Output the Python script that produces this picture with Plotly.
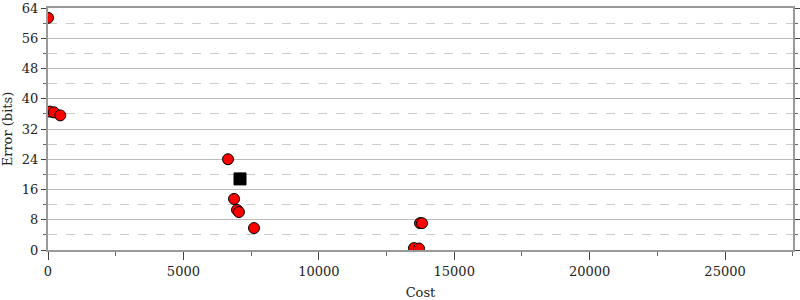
import plotly.graph_objects as go

cost = [0, 74, 222, 454, 6647, 6870, 6980, 7050, 7607, 13737, 13811, 13515, 13700]
error = [61.4, 36.6, 36.4, 35.6, 24.0, 13.5, 10.6, 10.05, 5.8, 7.1, 7.1, 0.5, 0.4]
init_cost = [7090]
init_error = [18.8]
x_ticks = [0, 5000, 10000, 15000, 20000, 25000]
x_labels = ["0", "5000", "10000", "15000", "20000", "25000"]
y_ticks = [0, 8, 16, 24, 32, 40, 48, 56, 64]

fig = go.Figure()
fig.add_trace(go.Scatter(x=cost, y=error, mode="markers",
                         marker=dict(symbol="circle", size=11, color="red",
                                     line=dict(color="black", width=1)),
                         showlegend=False))
fig.add_trace(go.Scatter(x=init_cost, y=init_error, mode="markers",
                         marker=dict(symbol="square", size=12, color="black",
                                     line=dict(color="black", width=1)),
                         showlegend=False))

font = dict(family="DejaVu Serif", size=13, color="#222")
tfont = dict(family="DejaVu Serif", size=13, color="#222")
fig.update_layout(
    width=800, height=300,
    margin=dict(l=48, r=7, t=8, b=50, autoexpand=False),
    paper_bgcolor="white", plot_bgcolor="white",
    font=font,
    xaxis=dict(range=[0, 27510], tickvals=x_ticks, ticktext=x_labels, automargin=False,
               showgrid=False, zeroline=False, showline=True, linecolor="#999",
               linewidth=2, mirror=True, ticks="outside", ticklen=8, tickcolor="#444",
               minor=dict(dtick=2500, tick0=0, ticks="outside", ticklen=4, tickcolor="#666", showgrid=False),
               title=dict(text="Cost", standoff=10, font=tfont), tickfont=font),
    yaxis=dict(range=[0, 64], tickvals=y_ticks, automargin=False,
               showgrid=True, gridcolor="#bbb", gridwidth=1, zeroline=False,
               showline=True, linecolor="#999", linewidth=2, mirror="ticks",
               ticks="outside", ticklen=5, tickcolor="#444",
               minor=dict(dtick=4, tick0=0, ticks="outside", ticklen=3, tickcolor="#666",
                          showgrid=True, gridcolor="#ccc", griddash="dash", gridwidth=1),
               title=dict(text="Error (bits)", standoff=6, font=tfont), tickfont=font),
)
fig.write_html("out.html")
